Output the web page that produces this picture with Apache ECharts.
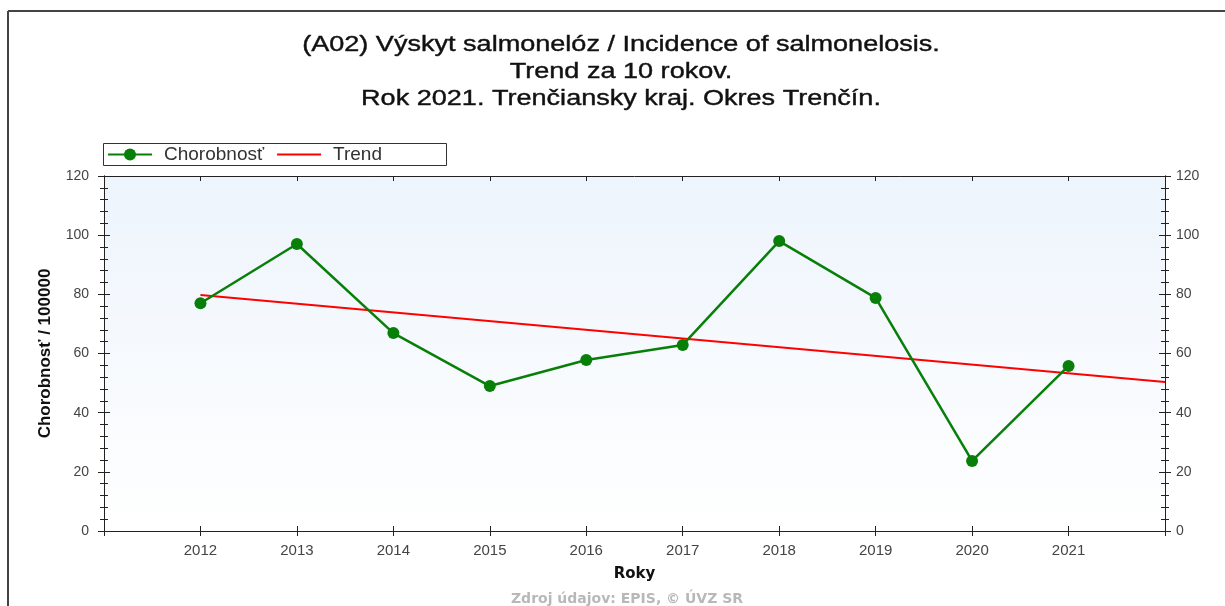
<!DOCTYPE html>
<html>
<head>
<meta charset="utf-8">
<title>A02 salmonelóza - trend</title>
<script src="https://cdn.jsdelivr.net/npm/echarts@6/dist/echarts.min.js"></script>
<style>
  html, body { margin: 0; padding: 0; background: #fff; }
  #chart { width: 1225px; height: 606px; }
</style>
</head>
<body>
<div id="chart"></div>
<script>
// data
var years = [2012, 2013, 2014, 2015, 2016, 2017, 2018, 2019, 2020, 2021]
var incidence = [77, 97, 66.9, 49, 57.8, 62.9, 98, 78.8, 23.7, 55.8]
var trendYears = [2012, 2022]
var trendValues = [79.8, 50.4]
var yTicks = [0, 20, 40, 60, 80, 100, 120]
var titleLines = [
  '(A02) Výskyt salmonelóz / Incidence of salmonelosis.',
  'Trend za 10 rokov.',
  'Rok 2021. Trenčiansky kraj. Okres Trenčín.'
]

var axisColor = '#222'
var arial = 'Liberation Sans, Arial, sans-serif'
var verdana = 'DejaVu Sans, Verdana, sans-serif'

// year axis, labels only for the data years
var yearLabel = function (v) {
  return years.indexOf(v) >= 0 ? String(v) : ''
}

var pairs = function (xs, ys) {
  return xs.map(function (x, i) { return [x, ys[i]] })
}

// one value axis (left/right, ticks outside or inside)
var valueAxis = function (pos, inside, showLabel) {
  return {
    type: 'value',
    position: pos,
    min: yTicks[0],
    max: yTicks[yTicks.length - 1],
    interval: 20,
    name: pos === 'left' && showLabel ? 'Chorobnosť / 100000' : '',
    nameLocation: 'middle',
    nameGap: 50,
    nameTextStyle: { fontFamily: arial, fontSize: 17, fontWeight: 'bold', color: '#111' },
    axisLine: { show: true, lineStyle: { color: axisColor, width: 1 } },
    axisTick: { show: true, inside: inside, length: 6, lineStyle: { color: axisColor } },
    minorTick: { show: true, splitNumber: 5, length: 4, lineStyle: { color: axisColor } },
    axisLabel: { show: showLabel, margin: pos === 'left' ? 15 : 11, fontFamily: arial, fontSize: 14, color: '#444' },
    splitLine: { show: false }
  }
}

var xAxisOf = function (pos, inside, showLabel) {
  return {
    type: 'value',
    position: pos,
    min: 2011,
    max: 2022,
    interval: 1,
    name: showLabel ? 'Roky' : '',
    nameLocation: 'middle',
    nameGap: 36,
    nameTextStyle: { fontFamily: verdana, fontSize: 15, fontWeight: 'bold', color: '#111' },
    axisLine: { show: true, onZero: false, lineStyle: { color: axisColor, width: 1 } },
    axisTick: { show: true, inside: inside, length: 5, lineStyle: { color: axisColor } },
    axisLabel: { show: showLabel, margin: 12, formatter: yearLabel, fontFamily: arial, fontSize: 15, color: '#444' },
    splitLine: { show: false }
  }
}

var chart = echarts.init(document.getElementById('chart'))

var option = {
  animation: false,
  legend: {
    left: 102,
    top: 143,
    padding: [2, 5],
    itemWidth: 44,
    itemHeight: 15,
    itemGap: 12,
    textStyle: { fontFamily: arial, fontSize: 19, color: '#333', padding: [0, 0, 0, 7] },
    data: [
      'Chorobnosť',
      { name: 'Trend', itemStyle: { color: 'rgba(0,0,0,0)', borderWidth: 0 } }
    ]
  },
  grid: {
    left: 104,
    right: 60,
    top: 176,
    bottom: 75,
    show: true,
    borderWidth: 0,
    backgroundColor: new echarts.graphic.LinearGradient(0, 0, 0, 1, [
      { offset: 0, color: '#edf4fc' },
      { offset: 1, color: '#ffffff' }
    ])
  },
  xAxis: [
    xAxisOf('bottom', false, true),
    xAxisOf('bottom', true, false),
    xAxisOf('top', true, false)
  ],
  yAxis: [
    valueAxis('left', false, true),
    valueAxis('left', true, false),
    valueAxis('right', false, true),
    valueAxis('right', true, false)
  ],
  graphic: [
    // outer frame (top and left edges visible)
    { type: 'line', shape: { x1: 8, y1: 11, x2: 1225, y2: 11 }, style: { stroke: '#444', lineWidth: 2 } },
    { type: 'line', shape: { x1: 8, y1: 11, x2: 8, y2: 606 }, style: { stroke: '#444', lineWidth: 2 } },
    // title, stretched like the original picture
    {
      type: 'text',
      x: 621,
      y: 31,
      scaleX: 1.23,
      style: {
        text: titleLines.join('\n'),
        textAlign: 'center',
        fontFamily: arial,
        fontSize: 22,
        lineHeight: 27,
        fill: '#111',
        stroke: '#111',
        lineWidth: 0.4
      }
    },
    // legend box
    { type: 'rect', shape: { x: 103.5, y: 143.5, width: 343, height: 22 }, style: { fill: '#fff', stroke: '#333', lineWidth: 1 }, z: -1 },
    {
      type: 'text',
      x: 627,
      y: 592,
      style: {
        text: 'Zdroj údajov: EPIS, © ÚVZ SR',
        textAlign: 'center',
        fontFamily: verdana,
        fontSize: 14,
        fontWeight: 'bold',
        fill: '#b8b8b8'
      }
    }
  ],
  series: [
    {
      name: 'Chorobnosť',
      type: 'line',
      data: pairs(years, incidence),
      symbol: 'circle',
      symbolSize: 12,
      itemStyle: { color: '#087f08' },
      lineStyle: { color: '#087f08', width: 2.5 },
      z: 3
    },
    {
      name: 'Trend',
      type: 'line',
      data: pairs(trendYears, trendValues),
      symbol: 'none',
      itemStyle: { color: '#ff0000' },
      lineStyle: { color: '#ff0000', width: 2 },
      z: 2
    }
  ]
}

chart.setOption(option)
</script>
</body>
</html>
